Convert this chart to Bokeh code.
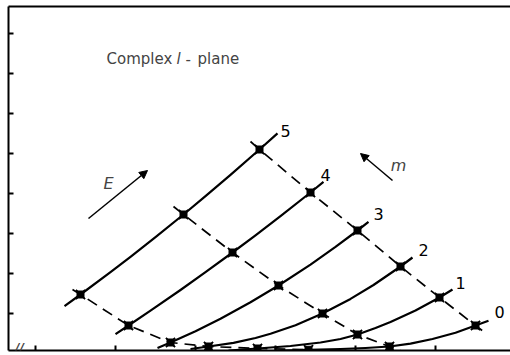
from bokeh.plotting import figure
from bokeh.models import (Range1d, FixedTicker, LinearAxis, Arrow, NormalHead, Label,
                          CustomJSTickFormatter)
from bokeh.embed import file_html
from bokeh.resources import INLINE
from bokeh.core.properties import value

FONT = "DejaVu Sans"

# Axis ticks (unlabelled, pointing inwards)
x_ticks = [1, 2, 3, 4, 5, 6, 7, 8, 9, 10, 11]
y_ticks = [1, 2, 3, 4, 5, 6, 7, 8]

# Solid trajectories, one per m (Re l, Im l)
m5_x = [0.725, 1.125, 1.875, 2.375, 3.0, 3.70, 4.25, 4.875, 5.60, 6.05]
m5_y = [1.185, 1.475, 2.033, 2.418, 2.908, 3.475, 3.933, 4.465, 5.10, 5.503]
m4_x = [2.0, 2.325, 2.875, 3.625, 4.25, 4.925, 5.50, 6.125, 6.875, 7.20]
m4_y = [0.485, 0.70, 1.07, 1.588, 2.033, 2.525, 2.955, 3.435, 4.025, 4.288]
m3_x = [3.05, 3.375, 4.0, 4.625, 5.375, 6.075, 6.875, 7.50, 8.05, 8.325]
m3_y = [0.14, 0.275, 0.558, 0.87, 1.28, 1.70, 2.223, 2.665, 3.075, 3.288]
m2_x = [3.875, 4.325, 4.95, 5.50, 5.875, 6.50, 7.175, 7.875, 8.45, 9.125, 9.425]
m2_y = [0.113, 0.175, 0.265, 0.388, 0.493, 0.708, 1.00, 1.365, 1.713, 2.175, 2.40]
m1_x = [4.825, 5.55, 6.375, 7.125, 7.625, 8.05, 8.50, 8.875, 9.50, 10.10, 10.425]
m1_y = [0.075, 0.125, 0.188, 0.275, 0.363, 0.475, 0.638, 0.788, 1.075, 1.40, 1.60]
m0_x = [6.125, 6.825, 7.625, 8.25, 8.85, 9.375, 9.925, 10.50, 11.0, 11.325]
m0_y = [0.075, 0.093, 0.113, 0.138, 0.175, 0.245, 0.363, 0.518, 0.70, 0.82]

m_values = ["5", "4", "3", "2", "1", "0"]
m_label_x = [6.25, 7.25, 8.575, 9.70, 10.625, 11.60]
m_label_y = [5.575, 4.475, 3.50, 2.60, 1.775, 1.05]

# Points of equal energy on the trajectories (m = 5 ... 0), joined by dashed lines
e1_x = [5.60, 6.875, 8.05, 9.125, 10.10, 11.0]
e1_y = [5.10, 4.025, 3.075, 2.175, 1.40, 0.70]
e2_x = [3.70, 4.925, 6.075, 7.175, 8.05, 8.85]
e2_y = [3.475, 2.525, 1.70, 1.00, 0.475, 0.175]
e3_x = [1.125, 2.325, 3.375, 4.325, 5.55, 6.825]
e3_y = [1.475, 0.70, 0.275, 0.175, 0.125, 0.093]

# short run-in / run-out of the dashed lines beyond the end points
e1_ends_x = [5.375, 11.2]
e1_ends_y = [5.30, 0.55]
e2_ends_x = [3.45, 9.125]
e2_ends_y = [3.675, 0.075]
e3_ends_x = [0.925, 7.10]
e3_ends_y = [1.60, 0.085]

p = figure(
    frame_width=502, frame_height=344,
    x_range=Range1d(-0.675, 11.875), y_range=Range1d(0.075, 8.675),
    output_backend="svg", toolbar_location=None,
    min_border_left=8, min_border_right=0, min_border_top=6, min_border_bottom=5,
    background_fill_color="white", border_fill_color="white",
)
p.outline_line_color = None
p.grid.visible = False

top_axis = LinearAxis(ticker=FixedTicker(ticks=[]))
p.add_layout(top_axis, "above")

for ax in p.axis:
    ax.formatter = CustomJSTickFormatter(code="return ''")
    ax.major_label_text_font_size = "1px"
    ax.major_label_standoff = 0
    ax.major_tick_out = 0
    ax.major_tick_in = 5
    ax.minor_tick_line_color = None
    ax.axis_line_width = 2
    ax.major_tick_line_width = 2
    ax.axis_line_color = "black"
    ax.major_tick_line_color = "black"
p.xaxis[0].ticker = FixedTicker(ticks=x_ticks)
p.yaxis[0].ticker = FixedTicker(ticks=y_ticks)
top_axis.major_tick_in = 0

# solid m-trajectories
for xs, ys in [(m5_x, m5_y), (m4_x, m4_y), (m3_x, m3_y),
               (m2_x, m2_y), (m1_x, m1_y), (m0_x, m0_y)]:
    p.line(xs, ys, line_color="black", line_width=2.2, line_join="round")

# dashed equal-energy lines with their crossing points
for xs, ys, ex, ey in [(e1_x, e1_y, e1_ends_x, e1_ends_y),
                       (e2_x, e2_y, e2_ends_x, e2_ends_y),
                       (e3_x, e3_y, e3_ends_x, e3_ends_y)]:
    px = [ex[0]] + xs + [ex[1]]
    py = [ey[0]] + ys + [ey[1]]
    p.line(px, py, line_color="black", line_width=1.7, line_dash="11 7")
    p.scatter(xs, ys, marker="x", size=13, line_color="black", line_width=1.8)
    p.scatter(xs, ys, marker="square", size=7, fill_color="black", line_color="black")

# m labels at the ends of the trajectories
p.text(m_label_x, m_label_y, text=m_values, text_font=value(FONT),
       text_font_size="16px", text_align="center", text_baseline="middle",
       text_color="black")

# energy and m direction arrows
p.add_layout(Arrow(x_start=1.325, y_start=3.375, x_end=2.80, y_end=4.575,
                   line_width=1.5, line_color="black",
                   end=NormalHead(size=8, fill_color="black", line_color="black")))
p.add_layout(Arrow(x_start=8.925, y_start=4.325, x_end=8.125, y_end=5.0,
                   line_width=1.5, line_color="black",
                   end=NormalHead(size=8, fill_color="black", line_color="black")))
p.add_layout(Label(x=1.825, y=4.25, text="E", text_font=FONT, text_font_size="16px",
                   text_font_style="italic", text_align="center", text_baseline="middle"))
p.add_layout(Label(x=9.075, y=4.70, text="m", text_font=FONT, text_font_size="16px",
                   text_font_style="italic", text_align="center", text_baseline="middle"))

# title inside the plot: "Complex l-plane"
for tx, txt, style in [(1.775, "Complex", "normal"), (3.525, "l", "italic"),
                       (3.75, "-", "normal"), (4.05, "plane", "normal")]:
    p.add_layout(Label(x=tx, y=7.3625, text=txt, text_font=FONT, text_font_size="15px",
                       text_font_style=style, text_align="left",
                       text_baseline="alphabetic"))

# axis break mark
p.add_layout(Label(x=-0.40, y=0.15, text="//", text_font=FONT, text_font_size="12px",
                   text_font_style="bold italic", text_align="center",
                   text_baseline="middle"))

open("out.html", "w").write(file_html(p, INLINE))
